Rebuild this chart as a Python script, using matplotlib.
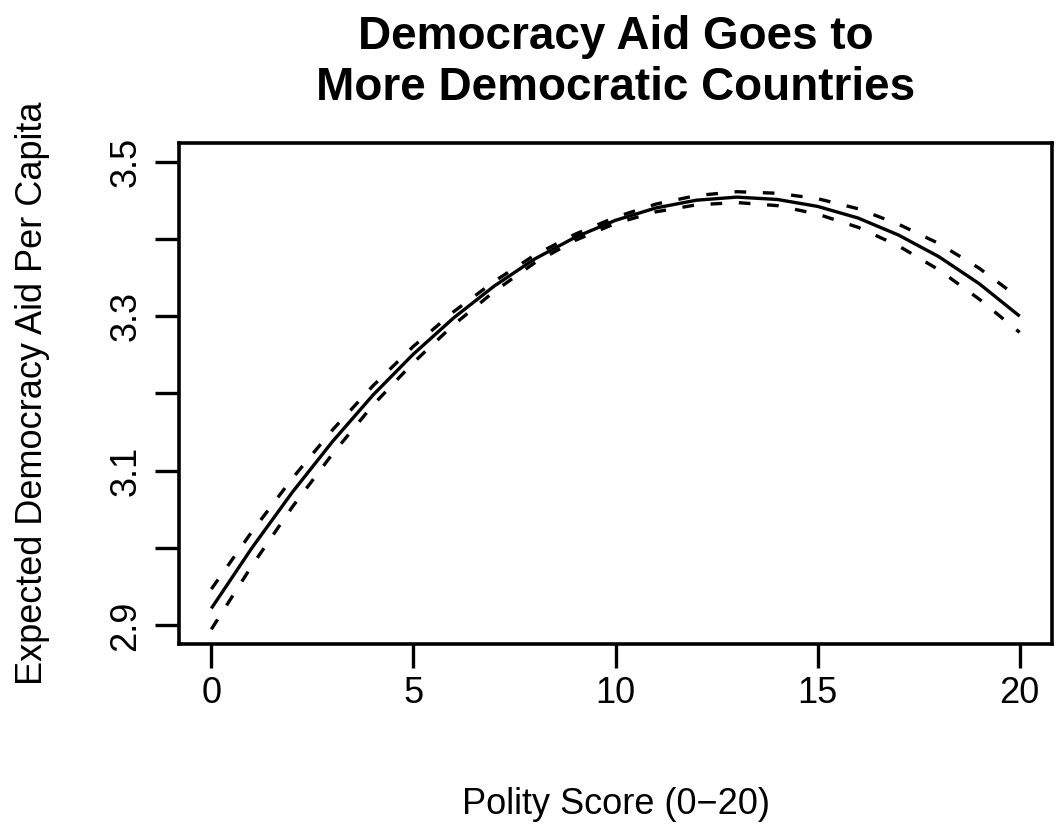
import numpy as np
import matplotlib
matplotlib.use('Agg')
import matplotlib.pyplot as plt

plt.rcParams['font.family'] = ['Liberation Sans', 'DejaVu Sans']

# ---- data ----
polity = [0, 1, 2, 3, 4, 5, 6, 7, 8, 9, 10, 11, 12, 13, 14, 15, 16, 17, 18, 19, 20]
aid_fit = [2.922, 3.000, 3.072, 3.138, 3.198, 3.251, 3.298, 3.339, 3.374, 3.402, 3.424,
           3.440, 3.450, 3.454, 3.451, 3.442, 3.427, 3.405, 3.377, 3.342, 3.300]
aid_hi = [2.947, 3.021, 3.090, 3.153, 3.210, 3.261, 3.306, 3.345, 3.379, 3.406, 3.428,
          3.445, 3.456, 3.461, 3.459, 3.452, 3.439, 3.419, 3.394, 3.362, 3.323]
aid_lo = [2.895, 2.977, 3.053, 3.122, 3.185, 3.240, 3.289, 3.332, 3.369, 3.398, 3.420,
          3.435, 3.444, 3.447, 3.443, 3.432, 3.415, 3.391, 3.360, 3.322, 3.279]
xticks = [0, 5, 10, 15, 20]
yticks = [2.9, 3.0, 3.1, 3.2, 3.3, 3.4, 3.5]
ytick_labels = ['2.9', '', '3.1', '', '3.3', '', '3.5']

fig = plt.figure(figsize=(10.56, 8.30), dpi=100)
ax = fig.add_axes([179/1056, 1-644/830, (1052-179)/1056, (644-143)/830])

ax.plot(polity, aid_fit, color='k', lw=2.4, solid_capstyle='butt')
ax.plot(polity, aid_hi, color='k', lw=2.4, linestyle=(0, (3.5, 5)), dash_capstyle='butt')
ax.plot(polity, aid_lo, color='k', lw=2.4, linestyle=(0, (3.5, 5)), dash_capstyle='butt')

ax.set_xlim(-0.8, 20.8)
ax.set_ylim(2.876, 3.524)
ax.set_xticks(xticks)
ax.set_yticks(yticks)
ax.set_yticklabels(ytick_labels, rotation=90, va='center')
ax.tick_params(direction='out', length=17, width=2.4, labelsize=26)
ax.tick_params(axis='x', pad=6)
ax.tick_params(axis='y', pad=8.5)
for sp in ax.spines.values():
    sp.set_linewidth(2.6)

ax.set_xlabel('Polity Score (0\u221220)', fontsize=26, labelpad=55)
ax.set_ylabel('Expected Democracy Aid Per Capita', fontsize=26, labelpad=42)
ax.set_title('Democracy Aid Goes to\nMore Democratic Countries', fontsize=33,
             fontweight='bold', pad=31, linespacing=1.2)

plt.savefig('out.png', dpi=100)
